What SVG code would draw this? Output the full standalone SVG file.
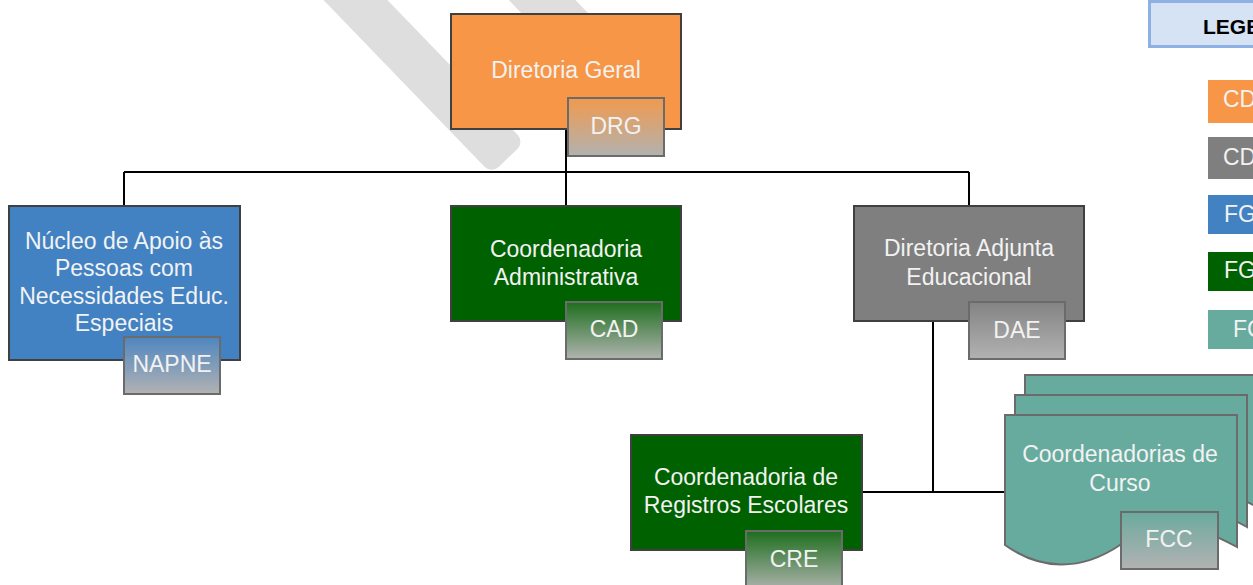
<svg xmlns="http://www.w3.org/2000/svg" width="1253" height="585" viewBox="0 0 1253 585">
<style>
  .node{stroke:#404040;stroke-width:2}
  .tab{stroke:#6B6B6B;stroke-width:2}
  .t{font-family:"Liberation Sans",Arial,sans-serif;font-size:23px;fill:#F2F2F2;text-anchor:middle}
  .lt{font-family:"Liberation Sans",Arial,sans-serif;font-size:23px;fill:#F2F2F2}
  .conn{stroke:#000;stroke-width:2;fill:none}
</style>
<defs>
  <linearGradient id="gOr" x1="0" y1="0" x2="0" y2="1"><stop offset="0" stop-color="#F09A4E"/><stop offset="1" stop-color="#B2B2B0"/></linearGradient>
  <linearGradient id="gBl" x1="0" y1="0" x2="0" y2="1"><stop offset="0" stop-color="#4F86C0"/><stop offset="1" stop-color="#B2B2B2"/></linearGradient>
  <linearGradient id="gGr" x1="0" y1="0" x2="0" y2="1"><stop offset="0" stop-color="#1E6E1E"/><stop offset="1" stop-color="#B0B4B0"/></linearGradient>
  <linearGradient id="gGy" x1="0" y1="0" x2="0" y2="1"><stop offset="0" stop-color="#838383"/><stop offset="1" stop-color="#B2B2B2"/></linearGradient>
  <linearGradient id="gTe" x1="0" y1="0" x2="0" y2="1"><stop offset="0" stop-color="#6BAA9E"/><stop offset="1" stop-color="#B2B2B2"/></linearGradient>
  <path id="doc" d="M0,0 H232 V132 C175,100 145,110 115,130 C75,157 35,155 0,130 Z"/>
</defs>
<rect width="1253" height="585" fill="#FFFFFF"/>
<g id="watermark" fill="#DEDEDE">
  <rect x="-300" y="-23" width="300" height="46" rx="10" transform="translate(508,158) rotate(46)"/>
  <rect x="-300" y="-24" width="300" height="48" rx="10" transform="translate(600,60) rotate(46)"/>
</g>
<g id="connectors" class="conn">
  <path d="M124,172 H969"/>
  <path d="M566,129 V206"/>
  <path d="M124,172 V206"/>
  <path d="M969,172 V206"/>
  <path d="M933,321 V493"/>
  <path d="M862,492 H1006"/>
</g>
<g id="diretoria-geral">
  <rect class="node" x="451" y="14" width="230" height="115" fill="#F79646"/>
  <text class="t" x="566" y="78">Diretoria Geral</text>
  <rect class="tab" x="568" y="98" width="96" height="58" fill="url(#gOr)"/>
  <text class="t" x="616" y="134">DRG</text>
</g>
<g id="napne">
  <rect class="node" x="9" y="206" width="231" height="154" fill="#4382C2"/>
  <text class="t" x="124" y="249">Núcleo de Apoio às</text>
  <text class="t" x="124" y="276">Pessoas com</text>
  <text class="t" x="124" y="304">Necessidades Educ.</text>
  <text class="t" x="124" y="331">Especiais</text>
  <rect class="tab" x="124" y="337" width="96" height="57" fill="url(#gBl)"/>
  <text class="t" x="172" y="372">NAPNE</text>
</g>
<g id="cad">
  <rect class="node" x="451" y="206" width="230" height="115" fill="#006100"/>
  <text class="t" x="566" y="257">Coordenadoria</text>
  <text class="t" x="566" y="285">Administrativa</text>
  <rect class="tab" x="566" y="302" width="96" height="57" fill="url(#gGr)"/>
  <text class="t" x="614" y="337">CAD</text>
</g>
<g id="dae">
  <rect class="node" x="854" y="206" width="230" height="115" fill="#7F7F7F"/>
  <text class="t" x="969" y="256">Diretoria Adjunta</text>
  <text class="t" x="969" y="285">Educacional</text>
  <rect class="tab" x="969" y="302" width="96" height="57" fill="url(#gGy)"/>
  <text class="t" x="1017" y="338">DAE</text>
</g>
<g id="cre">
  <rect class="node" x="631" y="435" width="231" height="115" fill="#006100"/>
  <text class="t" x="746" y="485">Coordenadoria de</text>
  <text class="t" x="746" y="513">Registros Escolares</text>
  <rect class="tab" x="746" y="531" width="96" height="60" fill="url(#gGr)"/>
  <text class="t" x="794" y="567">CRE</text>
</g>
<g id="coordenadorias-curso">
  <use href="#doc" x="1025" y="375" fill="#67AB9F" stroke="#6B6B6B" stroke-width="2"/>
  <use href="#doc" x="1015" y="395" fill="#67AB9F" stroke="#6B6B6B" stroke-width="2"/>
  <use href="#doc" x="1005" y="415" fill="#67AB9F" stroke="#6B6B6B" stroke-width="2"/>
  <text class="t" x="1120" y="462">Coordenadorias de</text>
  <text class="t" x="1120" y="491">Curso</text>
  <rect class="tab" x="1121" y="512" width="97" height="57" fill="url(#gTe)"/>
  <text class="t" x="1169" y="547">FCC</text>
</g>
<g id="legenda">
  <rect x="1149.5" y="1.5" width="120" height="45" fill="#D6E3F5" stroke="#8EB0E3" stroke-width="3"/>
  <text x="1203" y="34" font-family="'Liberation Sans',Arial,sans-serif" font-size="21" font-weight="bold" fill="#000">LEGENDA</text>
  <rect x="1208" y="80" width="60" height="43" fill="#F79646"/>
  <text class="lt" x="1223" y="107">CD</text>
  <rect x="1208" y="137" width="60" height="42" fill="#7F7F7F"/>
  <text class="lt" x="1223" y="165">CD</text>
  <rect x="1208" y="195" width="60" height="39" fill="#4382C2"/>
  <text class="lt" x="1224" y="222">FG</text>
  <rect x="1208" y="252" width="60" height="39" fill="#006100"/>
  <text class="lt" x="1224" y="278">FG</text>
  <rect x="1208" y="310" width="60" height="39" fill="#67AB9F"/>
  <text class="lt" x="1233" y="337">FC</text>
</g>
</svg>
